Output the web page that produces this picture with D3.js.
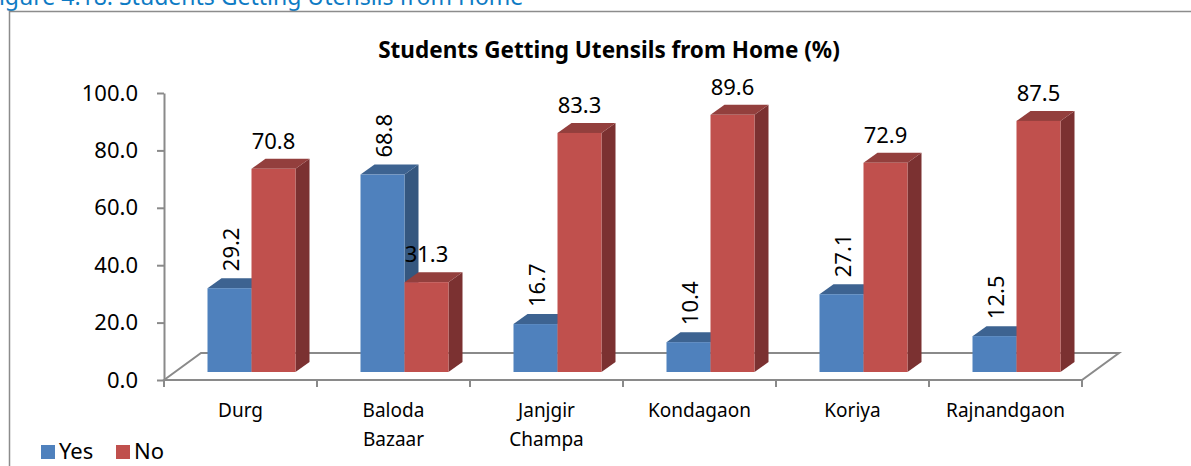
<!DOCTYPE html>
<html>
<head>
<meta charset="utf-8">
<script src="https://cdn.jsdelivr.net/npm/d3@7"></script>
<style>
  body { margin: 0; background: #fff; }
  svg { display: block; }
</style>
</head>
<body>
<div id="chart"></div>
<script>
// data
const categories = ["Durg", "Baloda Bazaar", "Janjgir Champa", "Kondagaon", "Koriya", "Rajnandgaon"];
const yesValues = [29.2, 68.8, 16.7, 10.4, 27.1, 12.5];
const noValues = [70.8, 31.3, 83.3, 89.6, 72.9, 87.5];
const yTicks = [0, 20, 40, 60, 80, 100];
const seriesNames = ["Yes", "No"];

const width = 1191, height = 466;
const font = "'Noto Sans', sans-serif";

// 3d offsets
const floorDepth = {dx: 37, dy: -27};
const barPlane = {dx: 11, dy: -8};
const barDepth = {dx: 14, dy: -10};
const barW = 44;

const colors = {
  Yes: {front: "#4F81BD", top: "#3D6391", side: "#35577F"},
  No: {front: "#C0504D", top: "#933F3D", side: "#7B3131"}
};

const svg = d3.select("#chart")
  .append("svg")
    .attr("width", width)
    .attr("height", height);

// caption line cut off at the top of the page
svg.append("text")
  .attr("x", -13)
  .attr("y", 5)
  .style("font", "23px " + font)
  .style("fill", "#0E7BC4")
  .text("Figure 4.18: Students Getting Utensils from Home");

// chart frame
svg.append("path")
  .attr("d", "M9.5," + height + "V11.5H" + width)
  .attr("fill", "none")
  .attr("stroke", "#8C8C8C")
  .attr("stroke-width", 1.5);

svg.append("text")
  .attr("x", 609)
  .attr("y", 58)
  .attr("text-anchor", "middle")
  .style("font", "bold 22.5px " + font)
  .style("fill", "#000")
  .text("Students Getting Utensils from Home (%)");

// scales
const x = d3.scaleBand()
  .domain(categories)
  .range([164, 1082])
  .padding(0);

const y = d3.scaleLinear()
  .domain([0, 100])
  .range([380, 93]);

// floor
const x0 = x.range()[0], x1 = x.range()[1], yb = y(0);
svg.append("path")
  .attr("d", "M" + x0 + "," + yb + "L" + (x0 + floorDepth.dx) + "," + (yb + floorDepth.dy) +
             "H" + (x1 + floorDepth.dx) + "L" + x1 + "," + yb + "Z")
  .attr("fill", "#fff")
  .attr("stroke", "#8A8A8A")
  .attr("stroke-width", 2);

// y axis
const yAxis = svg.append("g")
  .attr("transform", "translate(" + x0 + ",0)")
  .call(d3.axisLeft(y).tickValues(yTicks).tickFormat(d3.format(".1f")).tickSize(7).tickSizeOuter(0).tickPadding(19));
yAxis.select(".domain").attr("stroke", "#8A8A8A").attr("stroke-width", 2);
yAxis.selectAll(".tick line").attr("stroke", "#8A8A8A").attr("stroke-width", 2);
yAxis.selectAll(".tick text")
  .style("font", "22px " + font)
  .style("fill", "#000");

// x axis tick marks at band edges
const edges = categories.map(c => x(c)).concat([x1]);
svg.append("g")
  .selectAll("line")
  .data(edges)
  .join("line")
    .attr("x1", d => d).attr("x2", d => d)
    .attr("y1", yb).attr("y2", yb + 7)
    .attr("stroke", "#8A8A8A")
    .attr("stroke-width", 2);

// category labels (wrapped on space)
const catLabels = svg.append("g")
  .selectAll("text")
  .data(categories)
  .join("text")
    .attr("x", d => x(d) + x.bandwidth() / 2)
    .attr("y", 417)
    .attr("text-anchor", "middle")
    .style("font", "19px " + font)
    .style("fill", "#000");
catLabels.each(function(d) {
  const words = d.split(" ");
  d3.select(this).selectAll("tspan")
    .data(words)
    .join("tspan")
      .attr("x", x(d) + x.bandwidth() / 2)
      .attr("dy", (w, i) => i === 0 ? 0 : 29)
      .text(w => w);
});

// bars
const rows = categories.map((c, i) => ({cat: c, values: [yesValues[i], noValues[i]]}));

function bar3d(g, left, top, bottom, col) {
  const right = left + barW;
  g.append("path") // side
    .attr("d", "M" + right + "," + top + "L" + (right + barDepth.dx) + "," + (top + barDepth.dy) +
               "V" + (bottom + barDepth.dy) + "L" + right + "," + bottom + "Z")
    .attr("fill", col.side);
  g.append("path") // top
    .attr("d", "M" + left + "," + top + "L" + (left + barDepth.dx) + "," + (top + barDepth.dy) +
               "H" + (right + barDepth.dx) + "L" + right + "," + top + "Z")
    .attr("fill", col.top);
  g.append("rect") // front
    .attr("x", left)
    .attr("y", top)
    .attr("width", barW)
    .attr("height", bottom - top)
    .attr("fill", col.front);
}

const barG = svg.append("g");
rows.forEach(r => {
  const cx = x(r.cat) + x.bandwidth() / 2 + barPlane.dx;
  r.values.forEach((v, j) => {
    const left = cx - barW + j * barW;
    bar3d(barG, left, y(v) + barPlane.dy, yb + barPlane.dy, colors[seriesNames[j]]);
  });
});

// value labels
const labG = svg.append("g");
rows.forEach(r => {
  const cx = x(r.cat) + x.bandwidth() / 2 + barPlane.dx;
  // Yes: rotated
  const yTop = y(r.values[0]) + barPlane.dy;
  labG.append("text")
    .attr("transform", "translate(" + (cx - barW / 2 + 2) + "," + (yTop - 17) + ")rotate(-90)")
    .attr("dy", "0.35em")
    .style("font", "22px " + font)
    .style("fill", "#000")
    .text(d3.format(".1f")(r.values[0]));
  // No: horizontal
  const nTop = y(r.values[1]) + barPlane.dy;
  labG.append("text")
    .attr("x", cx + barW / 2)
    .attr("y", nTop - 20)
    .attr("text-anchor", "middle")
    .style("font", "22px " + font)
    .style("fill", "#000")
    .text(d3.format(".1f")(r.values[1]));
});

// legend
const legend = svg.append("g")
  .selectAll("g")
  .data(seriesNames)
  .join("g")
    .attr("transform", (d, i) => "translate(" + (41 + i * 75) + ",445)");
legend.append("rect")
  .attr("width", 14)
  .attr("height", 14)
  .attr("fill", d => colors[d].front);
legend.append("text")
  .attr("x", 18)
  .attr("y", 14)
  .style("font", "22px " + font)
  .style("fill", "#000")
  .text(d => d);
</script>
</body>
</html>
